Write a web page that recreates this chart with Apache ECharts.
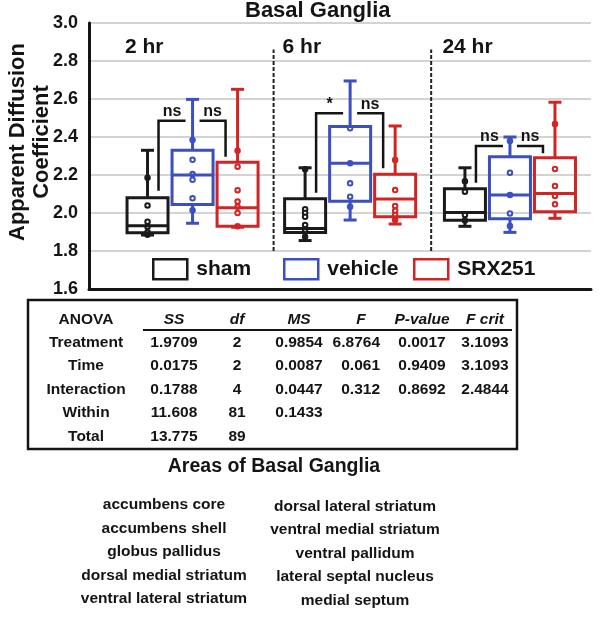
<!DOCTYPE html>
<html><head><meta charset="utf-8">
<script src="https://cdn.jsdelivr.net/npm/echarts@6/dist/echarts.min.js"></script>
<style>html,body{margin:0;padding:0;background:#fff}#c{width:600px;height:618px}</style>
</head><body><div id="c"></div>
<script>
// ---------- data ----------
const timePoints = ['2 hr', '6 hr', '24 hr'];
const treatments = ['sham', 'vehicle', 'SRX251'];
const treatmentColors = ['#1a1a1a', '#3b4fc2', '#d12424'];
const yMin = 1.6, yMax = 3.0, yStep = 0.2;

// box stats per time point: [min, q1, median, q3, max]
const shamBoxes = [
  [1.884, 1.896, 1.933, 2.080, 2.330],
  [1.855, 1.898, 1.918, 2.075, 2.238],
  [1.930, 1.962, 2.003, 2.128, 2.238]
];
const vehicleBoxes = [
  [1.946, 2.045, 2.200, 2.330, 2.598],
  [1.963, 2.062, 2.262, 2.455, 2.695],
  [1.898, 1.970, 2.095, 2.296, 2.400]
];
const srxBoxes = [
  [1.925, 1.930, 2.028, 2.267, 2.651],
  [1.942, 1.980, 2.074, 2.204, 2.458],
  [1.972, 2.007, 2.102, 2.291, 2.583]
];
// individual visible points per time point
const shamPoints = [
  [2.186, 2.040, 1.954, 1.928, 1.900, 1.885],
  [2.230, 2.020, 2.000, 1.980, 1.937, 1.912, 1.875],
  [2.167, 2.112, 1.990, 1.960]
];
const vehiclePoints = [
  [2.384, 2.280, 2.205, 2.175, 2.077, 2.014],
  [2.446, 2.262, 2.156, 2.086, 2.033],
  [2.379, 2.212, 2.095, 1.998, 1.932]
];
const srxPoints = [
  [2.328, 2.244, 2.120, 2.060, 2.033, 2.000, 1.930],
  [2.279, 2.121, 2.037, 2.012, 1.990, 1.963],
  [2.468, 2.232, 2.142, 2.090, 2.046]
];
// significance brackets: time index, pair (0 = sham-vehicle, 1 = vehicle-SRX251), top, leg end, label
const sigTime  = [0, 0, 1, 1, 2, 2];
const sigPair  = [0, 1, 0, 1, 0, 1];
const sigTop   = [2.486, 2.486, 2.525, 2.525, 2.353, 2.353];
const sigLeg   = [2.117, 2.296, 2.107, 2.235, 2.159, 2.314];
const sigText  = ['ns', 'ns', '*', 'ns', 'ns', 'ns'];

// ANOVA table
const anovaHeaders = ['ANOVA', 'SS', 'df', 'MS', 'F', 'P-value', 'F crit'];
const anovaRows = ['Treatment', 'Time', 'Interaction', 'Within', 'Total'];
const ssCol    = ['1.9709', '0.0175', '0.1788', '11.608', '13.775'];
const dfCol    = ['2', '2', '4', '81', '89'];
const msCol    = ['0.9854', '0.0087', '0.0447', '0.1433', ''];
const fCol     = ['6.8764', '0.061', '0.312', '', ''];
const pCol     = ['0.0017', '0.9409', '0.8692', '', ''];
const fcritCol = ['3.1093', '3.1093', '2.4844', '', ''];

const areasTitle = 'Areas of Basal Ganglia';
const areasLeft  = ['accumbens core', 'accumbens shell', 'globus pallidus', 'dorsal medial striatum', 'ventral lateral striatum'];
const areasRight = ['dorsal lateral striatum', 'ventral medial striatum', 'ventral pallidum', 'lateral septal nucleus', 'medial septum'];

// ---------- layout ----------
const groupCenters = [2.3, 5.8, 9.35];
const separators = [4.1, 7.6];
const xMaxUnits = 11.15;
const FF = '"Liberation Sans", Arial, Helvetica, sans-serif';
const BLACK = '#141414';

const allBoxes = [shamBoxes, vehicleBoxes, srxBoxes];
const allPoints = [shamPoints, vehiclePoints, srxPoints];

const boxData = [];
allBoxes.forEach((arr, t) => arr.forEach((b, g) => boxData.push([groupCenters[g] + (t - 1), t].concat(b))));

const chart = echarts.init(document.getElementById('c'), null, {renderer: 'canvas'});

const scatterSeries = treatments.map((name, t) => ({
  type: 'scatter', name: name, z: 2,
  symbol: 'circle', symbolSize: 4.5,
  itemStyle: {color: '#fff', borderColor: treatmentColors[t], borderWidth: 2, opacity: 1},
  emphasis: {disabled: true},
  data: allPoints[t].flatMap((vals, g) => vals.map(v => [groupCenters[g] + (t - 1), v]))
}));

const boxSeries = {
  type: 'custom', name: 'boxes', z: 3, silent: true,
  data: boxData,
  renderItem: (params, api) => {
    const x = api.value(0), t = api.value(1);
    const mn = api.value(2), q1 = api.value(3), md = api.value(4), q3 = api.value(5), mx = api.value(6);
    const c = treatmentColors[t];
    const px = api.coord([x, md])[0];
    const y = v => api.coord([x, v])[1];
    const hw = 20.5, cap = 6.5;
    const st = {stroke: c, lineWidth: 3, fill: null};
    return {type: 'group', children: [
      {type: 'line', shape: {x1: px, y1: y(mx), x2: px, y2: y(q3)}, style: st},
      {type: 'line', shape: {x1: px, y1: y(q1), x2: px, y2: y(mn)}, style: st},
      {type: 'line', shape: {x1: px - cap, y1: y(mx), x2: px + cap, y2: y(mx)}, style: st},
      {type: 'line', shape: {x1: px - cap, y1: y(mn), x2: px + cap, y2: y(mn)}, style: st},
      {type: 'rect', shape: {x: px - hw, y: y(q3), width: 2 * hw, height: y(q1) - y(q3)}, style: {stroke: c, lineWidth: 3, fill: 'rgba(0,0,0,0)'}},
      {type: 'line', shape: {x1: px - hw, y1: y(md), x2: px + hw, y2: y(md)}, style: st}
    ]};
  }
};

const sepSeries = {
  type: 'custom', name: 'separators', z: 1, silent: true,
  data: separators.map(s => [s]),
  renderItem: (params, api) => {
    const a = api.coord([api.value(0), 1.8]), b = api.coord([api.value(0), 2.86]);
    return {type: 'line', shape: {x1: a[0], y1: a[1], x2: b[0], y2: b[1]},
      style: {stroke: '#222', lineWidth: 2, lineDash: [4, 2]}};
  }
};

const panelLabelSeries = {
  type: 'custom', name: 'panels', z: 4, silent: true,
  data: timePoints.map((tp, g) => [groupCenters[g] - 1.5, 2.874]),
  renderItem: (params, api) => {
    const p = api.coord([api.value(0), api.value(1)]);
    return {type: 'text', x: p[0], y: p[1], style: {text: timePoints[params.dataIndex], fill: BLACK,
      font: 'bold 21px ' + FF, textAlign: 'left', textVerticalAlign: 'middle'}};
  }
};

const sigSeries = {
  type: 'custom', name: 'sig', z: 4, silent: true,
  data: sigTime.map((g, i) => [g, sigPair[i], sigTop[i], sigLeg[i]]),
  renderItem: (params, api) => {
    const g = api.value(0), tp = api.value(1), top = api.value(2), leg = api.value(3);
    const cx = groupCenters[g];
    const sx = api.coord([cx - 1, top])[0], vx = api.coord([cx, top])[0], rx = api.coord([cx + 1, top])[0];
    const yt = api.coord([cx, top])[1], yl = api.coord([cx, leg])[1];
    let pts, x1, x2;
    if (tp === 0) { x1 = sx + 11; x2 = vx - 7; pts = [[x1, yl], [x1, yt], [x2, yt]]; }
    else { x1 = vx + 7; x2 = rx - 12; pts = [[x1, yt], [x2, yt], [x2, yl]]; }
    return {type: 'group', children: [
      {type: 'polyline', shape: {points: pts}, style: {stroke: BLACK, lineWidth: 2.5, fill: null}},
      {type: 'text', x: (x1 + x2) / 2, y: yt - 9, style: {text: sigText[params.dataIndex], fill: BLACK,
        font: 'bold 16px ' + FF, textAlign: 'center', textVerticalAlign: 'middle'}}
    ]};
  }
};

// ---------- graphics: axis name, table, areas ----------
const graphics = [];
graphics.push({type: 'text', x: 30, y: 142, rotation: Math.PI / 2,
  style: {text: 'Apparent Diffusion\nCoefficient', fill: BLACK, font: 'bold 22px ' + FF,
    textAlign: 'center', textVerticalAlign: 'middle', lineHeight: 24}});

// table
graphics.push({type: 'rect', shape: {x: 28, y: 300, width: 489, height: 149},
  style: {fill: 'none', stroke: BLACK, lineWidth: 2.5}});
graphics.push({type: 'line', shape: {x1: 143, y1: 330, x2: 512, y2: 330},
  style: {stroke: BLACK, lineWidth: 2}});
const colX = [86, 174, 237, 299, 361, 422, 485];
const headerY = 320;
const rowY = [342.5, 366, 389.5, 413, 436.5];
anovaHeaders.forEach((h, i) => {
  graphics.push({type: 'text', x: colX[i], y: headerY, style: {text: h, fill: BLACK,
    font: (i === 0 ? '' : 'italic ') + 'bold 15.5px ' + FF, textAlign: 'center', textVerticalAlign: 'middle'}});
});
const cols = [anovaRows, ssCol, dfCol, msCol, fCol, pCol, fcritCol];
cols.forEach((col, ci) => col.forEach((v, ri) => {
  if (!v) return;
  const isF = ci === 4;
  graphics.push({type: 'text', x: isF ? 380 : colX[ci], y: rowY[ri], style: {text: v, fill: BLACK,
    font: 'bold 15.5px ' + FF, textAlign: isF ? 'right' : 'center', textVerticalAlign: 'middle'}});
}));

// areas
graphics.push({type: 'text', x: 274, y: 467, style: {text: areasTitle, fill: BLACK,
  font: 'bold 19.5px ' + FF, textAlign: 'center', textVerticalAlign: 'middle'}});
const areaY = [505, 528.5, 552, 575.5, 599];
areasLeft.forEach((s, i) => graphics.push({type: 'text', x: 164, y: areaY[i], style: {text: s, fill: BLACK,
  font: 'bold 15.5px ' + FF, textAlign: 'center', textVerticalAlign: 'middle'}}));
areasRight.forEach((s, i) => graphics.push({type: 'text', x: 355, y: areaY[i] + 1.5, style: {text: s, fill: BLACK,
  font: 'bold 15.5px ' + FF, textAlign: 'center', textVerticalAlign: 'middle'}}));

const legendLefts = [152, 283, 413];
const legends = treatments.map((name, t) => ({
  left: legendLefts[t], top: 258, padding: 0, itemWidth: 34, itemHeight: 20, selectedMode: false,
  data: [{name: name, icon: 'rect', itemStyle: {color: '#fff', borderColor: treatmentColors[t], borderWidth: 2.5}}],
  textStyle: {color: BLACK, fontWeight: 'bold', fontSize: 21, fontFamily: FF, padding: [0, 0, 0, 4]}
}));

chart.setOption({
  animation: false,
  backgroundColor: '#fff',
  title: {text: 'Basal Ganglia', left: 245, top: 0, padding: 0,
    textStyle: {color: BLACK, fontWeight: 'bold', fontSize: 22, fontFamily: FF}},
  legend: legends,
  grid: {left: 89, right: 9, top: 23, bottom: 329, containLabel: false},
  xAxis: {type: 'value', min: 0, max: xMaxUnits,
    axisLine: {show: true, onZero: false, lineStyle: {color: BLACK, width: 3}},
    axisTick: {show: false}, axisLabel: {show: false}, splitLine: {show: false}},
  yAxis: {type: 'value', min: yMin, max: yMax, interval: yStep,
    axisLine: {show: true, lineStyle: {color: BLACK, width: 3}},
    axisTick: {show: false},
    axisLabel: {color: BLACK, fontWeight: 'bold', fontSize: 18, fontFamily: FF, margin: 11,
      formatter: v => v.toFixed(1)},
    splitLine: {show: true, lineStyle: {color: '#c4c4c4', width: 1.5}}},
  series: [sepSeries].concat(scatterSeries, [boxSeries, sigSeries, panelLabelSeries]),
  graphic: graphics
});
</script></body></html>
